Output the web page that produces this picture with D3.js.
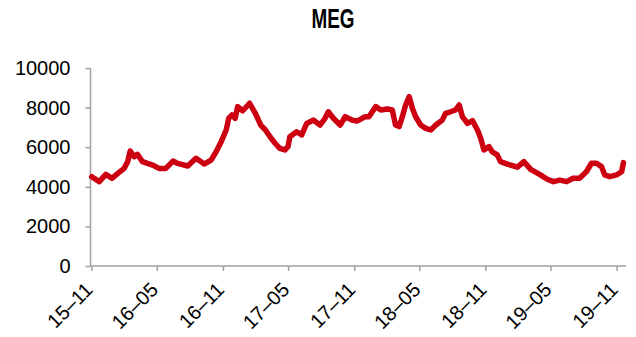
<!DOCTYPE html>
<html>
<head>
<meta charset="utf-8">
<script src="https://cdn.jsdelivr.net/npm/d3@7"></script>
<style>
  html, body { margin: 0; padding: 0; background: #fff; }
  svg { display: block; }
</style>
</head>
<body>
<svg id="chart" width="636" height="337"></svg>
<script>
// MEG price series, weekly-ish samples
const dates = [
  "2015-11-02","2015-11-23","2015-12-11","2015-12-28","2016-01-17","2016-01-31",
  "2016-02-10","2016-02-17","2016-02-28","2016-03-08","2016-03-22","2016-04-05",
  "2016-04-19","2016-05-07","2016-05-26","2016-06-15","2016-06-28","2016-07-26",
  "2016-08-18","2016-09-10","2016-09-29","2016-10-13","2016-10-27","2016-11-10",
  "2016-11-17","2016-11-26","2016-12-05","2016-12-12","2016-12-26","2017-01-14",
  "2017-01-30","2017-02-14","2017-02-27","2017-03-13","2017-03-26","2017-04-08",
  "2017-04-22","2017-05-01","2017-05-06","2017-05-25","2017-06-08","2017-06-22",
  "2017-07-10","2017-07-29","2017-08-12","2017-08-21","2017-09-04","2017-09-23",
  "2017-10-07","2017-10-26","2017-11-09","2017-11-23","2017-12-02","2017-12-12",
  "2017-12-31","2018-01-14","2018-02-01","2018-02-15","2018-02-24","2018-03-06",
  "2018-03-15","2018-03-24","2018-04-03","2018-04-12","2018-04-21","2018-05-05",
  "2018-05-19","2018-06-02","2018-06-16","2018-07-04","2018-07-13","2018-07-27",
  "2018-08-10","2018-08-20","2018-08-29","2018-09-12","2018-09-26","2018-10-10",
  "2018-10-19","2018-10-28","2018-11-11","2018-11-20","2018-12-04","2018-12-13",
  "2019-01-01","2019-01-29","2019-02-16","2019-03-07","2019-04-03","2019-04-22",
  "2019-05-09","2019-05-27","2019-06-15","2019-07-03","2019-07-21","2019-08-09",
  "2019-08-23","2019-09-06","2019-09-20","2019-09-29","2019-10-13","2019-11-01",
  "2019-11-15","2019-11-20"
];
const prices = [
  4510,4260,4630,4430,4730,4930,
  5270,5810,5520,5640,5270,5180,
  5100,4930,4930,5300,5180,5050,
  5440,5150,5350,5770,6280,6870,
  7460,7630,7460,8050,7840,8220,
  7710,7120,6870,6500,6200,5940,
  5860,6030,6530,6780,6620,7200,
  7370,7120,7460,7790,7460,7120,
  7540,7370,7320,7460,7540,7540,
  8050,7880,7930,7880,7120,7040,
  7540,8130,8550,7960,7540,7120,
  6950,6870,7120,7370,7710,7790,
  7880,8130,7540,7200,7340,6870,
  6450,5860,6030,5770,5610,5270,
  5150,4990,5270,4880,4600,4380,
  4260,4340,4260,4430,4430,4760,
  5190,5190,5020,4600,4510,4600,
  4760,5220
];
const yTicks = [0, 2000, 4000, 6000, 8000, 10000];
const xTickLabels = ["15–11","16–05","16–11","17–05","17–11","18–05","18–11","19–05","19–11"];
const title = "MEG";

const svg = d3.select("#chart");
const parse = d3.timeParse("%Y-%m-%d");
const series = dates.map((d, i) => ({ date: parse(d), value: prices[i] }));
const tickDates = xTickLabels.map(l => parse("20" + l.slice(0, 2) + "-" + l.slice(3) + "-01"));

const x = d3.scaleTime()
  .domain([parse("2015-11-01"), parse("2019-11-21")])
  .range([91.4, 623.8]);
const y = d3.scaleLinear().domain([0, 10000]).range([266, 68]);

const axisColor = "#a0a0a0";

// title
svg.append("text")
  .attr("x", 333).attr("y", 28)
  .attr("text-anchor", "middle")
  .attr("font-family", "'Liberation Sans Narrow', 'Liberation Sans', Arial, sans-serif")
  .attr("font-weight", "bold")
  .attr("font-size", 27)
  .attr("textLength", 43)
  .attr("lengthAdjust", "spacingAndGlyphs")
  .attr("fill", "#000")
  .text(title);

// y axis
const yAxis = svg.append("g")
  .attr("transform", "translate(90.5,0)")
  .call(d3.axisLeft(y).tickValues(yTicks).tickSize(5).tickPadding(15).tickFormat(d3.format("d")));
yAxis.select(".domain").attr("stroke", axisColor).attr("stroke-width", 1.5)
  .attr("d", "M0,68V266");
yAxis.selectAll(".tick line").attr("stroke", axisColor).attr("stroke-width", 1.5);
yAxis.selectAll(".tick text")
  .attr("font-family", "'Liberation Sans', Arial, sans-serif")
  .attr("font-size", 20).attr("fill", "#000");

// x axis
const xAxis = svg.append("g")
  .attr("transform", "translate(0,266)")
  .call(d3.axisBottom(x).tickValues(tickDates).tickSize(5).tickFormat((d, i) => xTickLabels[i]));
xAxis.select(".domain").attr("stroke", axisColor).attr("stroke-width", 1.5)
  .attr("d", "M90.5,0H626");
xAxis.selectAll(".tick line").attr("stroke", axisColor).attr("stroke-width", 1.5);
xAxis.selectAll(".tick text")
  .attr("font-family", "'Liberation Sans', Arial, sans-serif")
  .attr("font-size", 20).attr("fill", "#000")
  .attr("text-anchor", "end")
  .attr("dy", 0)
  .attr("transform", "translate(2,25) rotate(-45)")
  .attr("y", 0).attr("x", 0);

// price line
const line = d3.line().x(d => x(d.date)).y(d => y(d.value));
svg.append("path")
  .datum(series)
  .attr("d", line)
  .attr("fill", "none")
  .attr("stroke", "#cc0011")
  .attr("stroke-width", 5.5)
  .attr("stroke-linejoin", "round")
  .attr("stroke-linecap", "round");
</script>
</body>
</html>
